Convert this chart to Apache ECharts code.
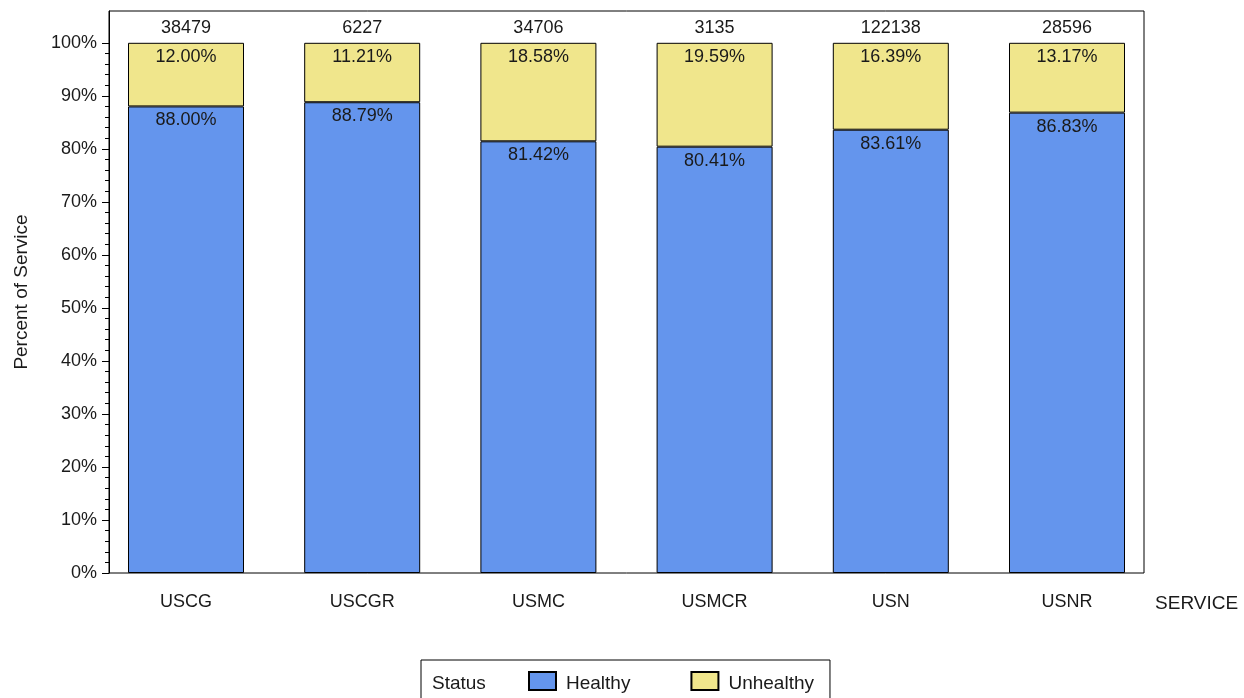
<!DOCTYPE html>
<html>
<head>
<meta charset="utf-8">
<script src="https://cdn.jsdelivr.net/npm/echarts@6/dist/echarts.min.js"></script>
<style>html,body{margin:0;padding:0;background:#fff;}#c{width:1244px;height:698px;}</style>
</head>
<body>
<div id="c"></div>
<script>
const categories = ['USCG', 'USCGR', 'USMC', 'USMCR', 'USN', 'USNR'];
const healthy = [88.00, 88.79, 81.42, 80.41, 83.61, 86.83];
const unhealthy = [12.00, 11.21, 18.58, 19.59, 16.39, 13.17];
const totals = [38479, 6227, 34706, 3135, 122138, 28596];
const yMajorTicks = [0, 10, 20, 30, 40, 50, 60, 70, 80, 90, 100];
const yMinorTicks = [2,4,6,8,12,14,16,18,22,24,26,28,32,34,36,38,42,44,46,48,52,54,56,58,62,64,66,68,72,74,76,78,82,84,86,88,92,94,96,98];

const FONT = "'Liberation Sans', Arial, sans-serif";
const TXT = '#1a1a1a';

const chart = echarts.init(document.getElementById('c'));
chart.setOption({
  animation: false,
  backgroundColor: '#fff',
  textStyle: { fontFamily: FONT },
  title: {
    text: 'Status', left: 432, top: 674, padding: 0,
    textStyle: { fontFamily: FONT, fontSize: 19, fontWeight: 'normal', color: TXT }
  },
  legend: {
    left: 421, top: 660,
    padding: [11, 16, 11, 107],
    borderColor: '#000', borderWidth: 1,
    icon: 'rect',
    itemWidth: 27, itemHeight: 18, itemGap: 60,
    formatter: '{t|{name}}',
    textStyle: {
      fontFamily: FONT, fontSize: 19, color: TXT,
      rich: { t: { fontFamily: FONT, fontSize: 19, color: TXT, padding: [5, 0, 0, 5] } }
    },
    data: ['Healthy', 'Unhealthy']
  },
  grid: [{
    left: 97.9, right: 88.9, top: 11, bottom: 125,
    show: false
  }, {
    left: 109, right: 100, top: 11, bottom: 125,
    show: true, borderColor: '#000', borderWidth: 1, backgroundColor: 'transparent'
  }],
  xAxis: [{
    type: 'category', gridIndex: 0, data: categories, boundaryGap: true,
    name: 'SERVICE', nameLocation: 'end', nameGap: 0,
    nameTextStyle: { fontFamily: FONT, fontSize: 19, color: TXT, verticalAlign: 'top', align: 'left', padding: [21, 0, 0, 0] },
    axisLine: { show: false },
    axisTick: { show: false },
    splitLine: { show: false },
    axisLabel: { margin: 20, fontFamily: FONT, fontSize: 18, color: TXT }
  }, {
    type: 'value', gridIndex: 1, min: 0, max: 1, show: false
  }],
  yAxis: [{
    type: 'value', gridIndex: 0, min: 0, max: 106, offset: -11.1,
    name: 'Percent of Service', nameLocation: 'middle', nameGap: 78,
    nameTextStyle: { fontFamily: FONT, fontSize: 19, color: TXT },
    axisLine: { show: true, onZero: false, lineStyle: { color: '#000' } },
    axisTick: { show: true, customValues: yMajorTicks, length: 7, lineStyle: { color: '#000' } },
    splitLine: { show: false },
    axisLabel: {
      customValues: yMajorTicks, margin: 12,
      fontFamily: FONT, fontSize: 18, color: TXT,
      formatter: v => v + '%'
    }
  }, {
    type: 'value', gridIndex: 0, min: 0, max: 106, position: 'left', offset: -11.1,
    axisLine: { show: false, onZero: false },
    axisTick: { show: true, customValues: yMinorTicks, length: 4, lineStyle: { color: '#000' } },
    axisLabel: { show: false },
    splitLine: { show: false }
  }, {
    type: 'value', gridIndex: 1, min: 0, max: 1, show: false
  }],
  series: [{
    name: 'Healthy', type: 'bar', stack: 'a', barWidth: 116,
    xAxisIndex: 0, yAxisIndex: 0,
    data: healthy,
    itemStyle: { color: '#6495ED', borderColor: '#000', borderWidth: 1 },
    label: {
      show: true, position: 'insideTop', distance: 5,
      fontFamily: FONT, fontSize: 18, color: TXT,
      formatter: p => p.value.toFixed(2) + '%'
    }
  }, {
    name: 'Unhealthy', type: 'bar', stack: 'a', barWidth: 116,
    xAxisIndex: 0, yAxisIndex: 0,
    data: unhealthy,
    itemStyle: { color: '#F0E68C', borderColor: '#000', borderWidth: 1 },
    label: {
      show: true, position: 'insideTop', distance: 5,
      fontFamily: FONT, fontSize: 18, color: TXT,
      formatter: p => p.value.toFixed(2) + '%'
    }
  }, {
    name: 'Total', type: 'scatter', symbolSize: 0.01,
    xAxisIndex: 0, yAxisIndex: 0,
    itemStyle: { color: '#000', opacity: 1 },
    data: healthy.map((h, i) => h + unhealthy[i]),
    label: {
      show: true, position: 'top', distance: 6,
      fontFamily: FONT, fontSize: 18, color: TXT,
      formatter: p => String(totals[p.dataIndex])
    },
    silent: true
  }]
});
</script>
</body>
</html>
